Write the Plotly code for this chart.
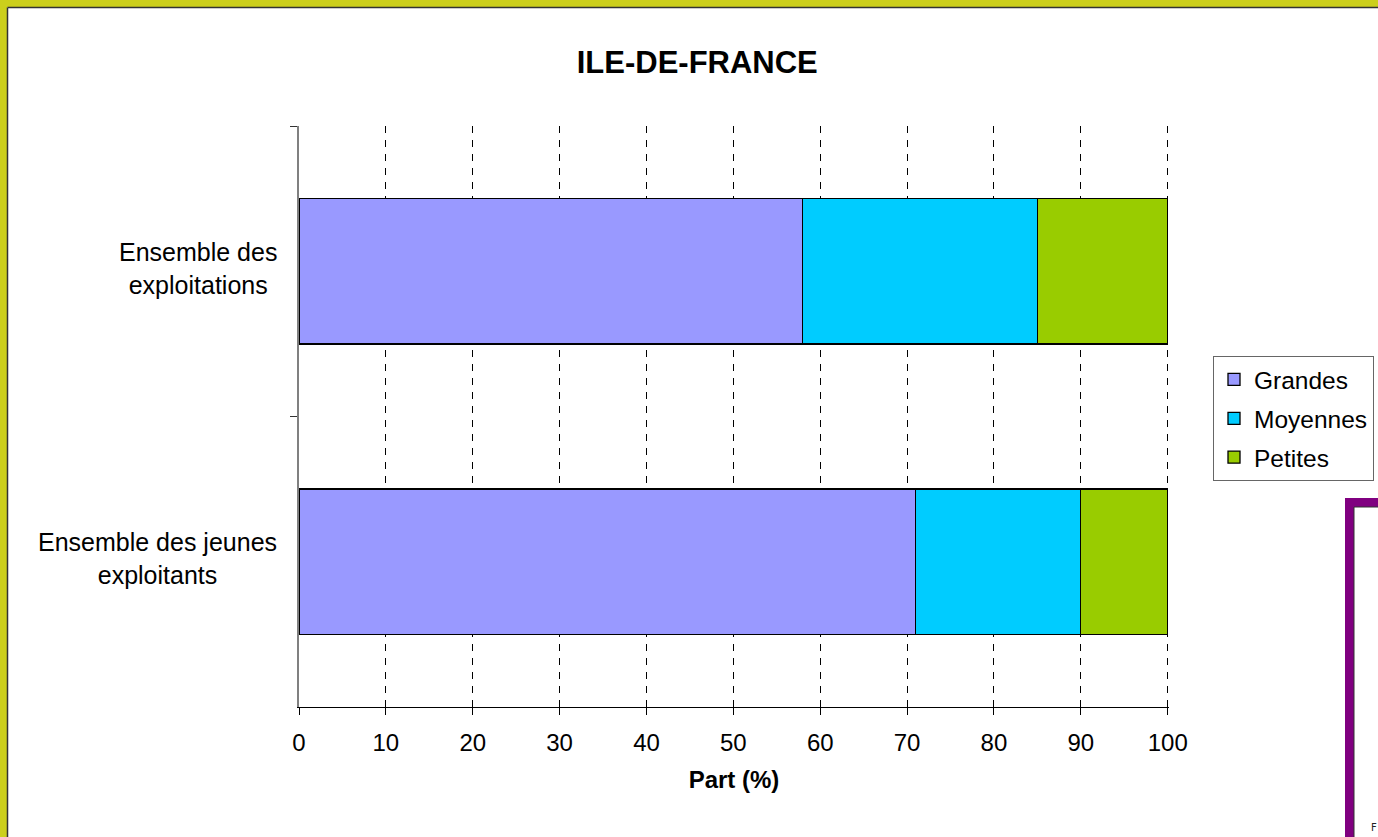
import plotly.graph_objects as go

# Données
categories = ["Ensemble des exploitations", "Ensemble des jeunes exploitants"]
category_labels = ["Ensemble des<br>exploitations", "Ensemble des jeunes<br>exploitants"]
grandes = [58, 71]
moyennes = [27, 19]
petites = [15, 10]
x_ticks = [0, 10, 20, 30, 40, 50, 60, 70, 80, 90, 100]
x_max = 100.15  # un peu au-delà de 100 pour garder la grille à 100

W, H = 1378, 837
L, R, T, B = 299, 209, 126, 130
PW, PH = W - L - R, H - T - B


def px_x(p):
    return (p - L) / PW


def px_y(p):
    return (H - B - p) / PH


series = [
    ("Grandes", grandes, "#9999FF"),
    ("Moyennes", moyennes, "#00CCFF"),
    ("Petites", petites, "#99CC00"),
]

fig = go.Figure()
for name, vals, color in series:
    fig.add_trace(go.Bar(
        y=categories,
        x=vals,
        name=name,
        orientation='h',
        legendgroup=name,
        marker=dict(color=color, line=dict(color='black', width=1.3)),
        hovertemplate='%{y}<br>' + name + ': %{x}%<extra></extra>'
    ))

font = "Liberation Sans, Arial, sans-serif"

# bordure jaune de la page, encadré violet en bas à droite
shapes = [
    dict(type='rect', xref='paper', yref='paper', x0=px_x(0), x1=px_x(W), y0=px_y(0), y1=px_y(7),
         fillcolor='#CCCF1C', line=dict(width=0), layer='below'),
    dict(type='rect', xref='paper', yref='paper', x0=px_x(0), x1=px_x(7), y0=px_y(0), y1=px_y(H),
         fillcolor='#CCCF1C', line=dict(width=0), layer='below'),
    dict(type='line', xref='paper', yref='paper', x0=px_x(7.5), x1=px_x(W), y0=px_y(7.5), y1=px_y(7.5),
         line=dict(color='#333333', width=1.5)),
    dict(type='line', xref='paper', yref='paper', x0=px_x(7.5), x1=px_x(7.5), y0=px_y(7.5), y1=px_y(H),
         line=dict(color='#333333', width=1.5)),
    dict(type='rect', xref='paper', yref='paper', x0=px_x(1345), x1=px_x(W + 5), y0=px_y(498), y1=px_y(H + 5),
         fillcolor='#800080', line=dict(width=0)),
    dict(type='rect', xref='paper', yref='paper', x0=px_x(1354), x1=px_x(W + 5), y0=px_y(507), y1=px_y(H + 5),
         fillcolor='white', line=dict(color='#333333', width=1)),
]

annotations = [
    dict(text=lab, x=0, xref='paper', y=cat, yref='y', xanchor='right', yanchor='middle',
         xshift=-20, yshift=3, align='center', showarrow=False,
         font=dict(family=font, size=25, color='black'))
    for cat, lab in zip(categories, category_labels)
]
annotations.append(dict(text="F", x=px_x(1374), xref='paper', y=px_y(827), yref='paper',
                        xanchor='center', yanchor='middle', showarrow=False,
                        font=dict(family="DejaVu Sans", size=10, color='#222222')))

fig.update_layout(
    width=W,
    height=H,
    barmode='stack',
    bargap=0.5,
    paper_bgcolor='white',
    plot_bgcolor='white',
    margin=dict(l=L, r=R, t=T, b=B, autoexpand=False),
    title=dict(text="<b>ILE-DE-FRANCE</b>", x=0.506, xref='container', xanchor='center',
               y=1 - 62 / H, yref='container', yanchor='middle',
               font=dict(family=font, size=31, color='black')),
    font=dict(family=font, size=24, color='black'),
    xaxis=dict(
        range=[0, x_max],
        tickvals=x_ticks,
        ticks='outside',
        ticklen=7,
        tickcolor='black',
        ticklabelstandoff=7,
        showline=True,
        linecolor='black',
        linewidth=1,
        showgrid=True,
        gridcolor='black',
        gridwidth=1,
        griddash='7px,7px',
        zeroline=False,
        tickfont=dict(family=font, size=24, color='black'),
        title=dict(text="<b>Part (%)</b>", standoff=16,
                   font=dict(family=font, size=24, color='black')),
    ),
    yaxis=dict(
        autorange='reversed',
        tickson='boundaries',
        ticks='outside',
        ticklen=7,
        tickcolor='#333333',
        showticklabels=False,
        showline=True,
        linecolor='#808080',
        linewidth=1.5,
        showgrid=False,
        zeroline=False,
    ),
    legend=dict(
        x=px_x(1213), y=px_y(356), xanchor='left', yanchor='top',
        xref='paper', yref='paper',
        bordercolor='#666666', borderwidth=1, bgcolor='white',
        font=dict(family=font, size=24.5, color='black'),
        traceorder='grouped', tracegroupgap=4, itemwidth=30,
    ),
    shapes=shapes,
    annotations=annotations,
)

fig.write_html("out.html", config={'displayModeBar': False},
               post_script="document.body.style.margin='0px';document.body.style.overflow='hidden';")
